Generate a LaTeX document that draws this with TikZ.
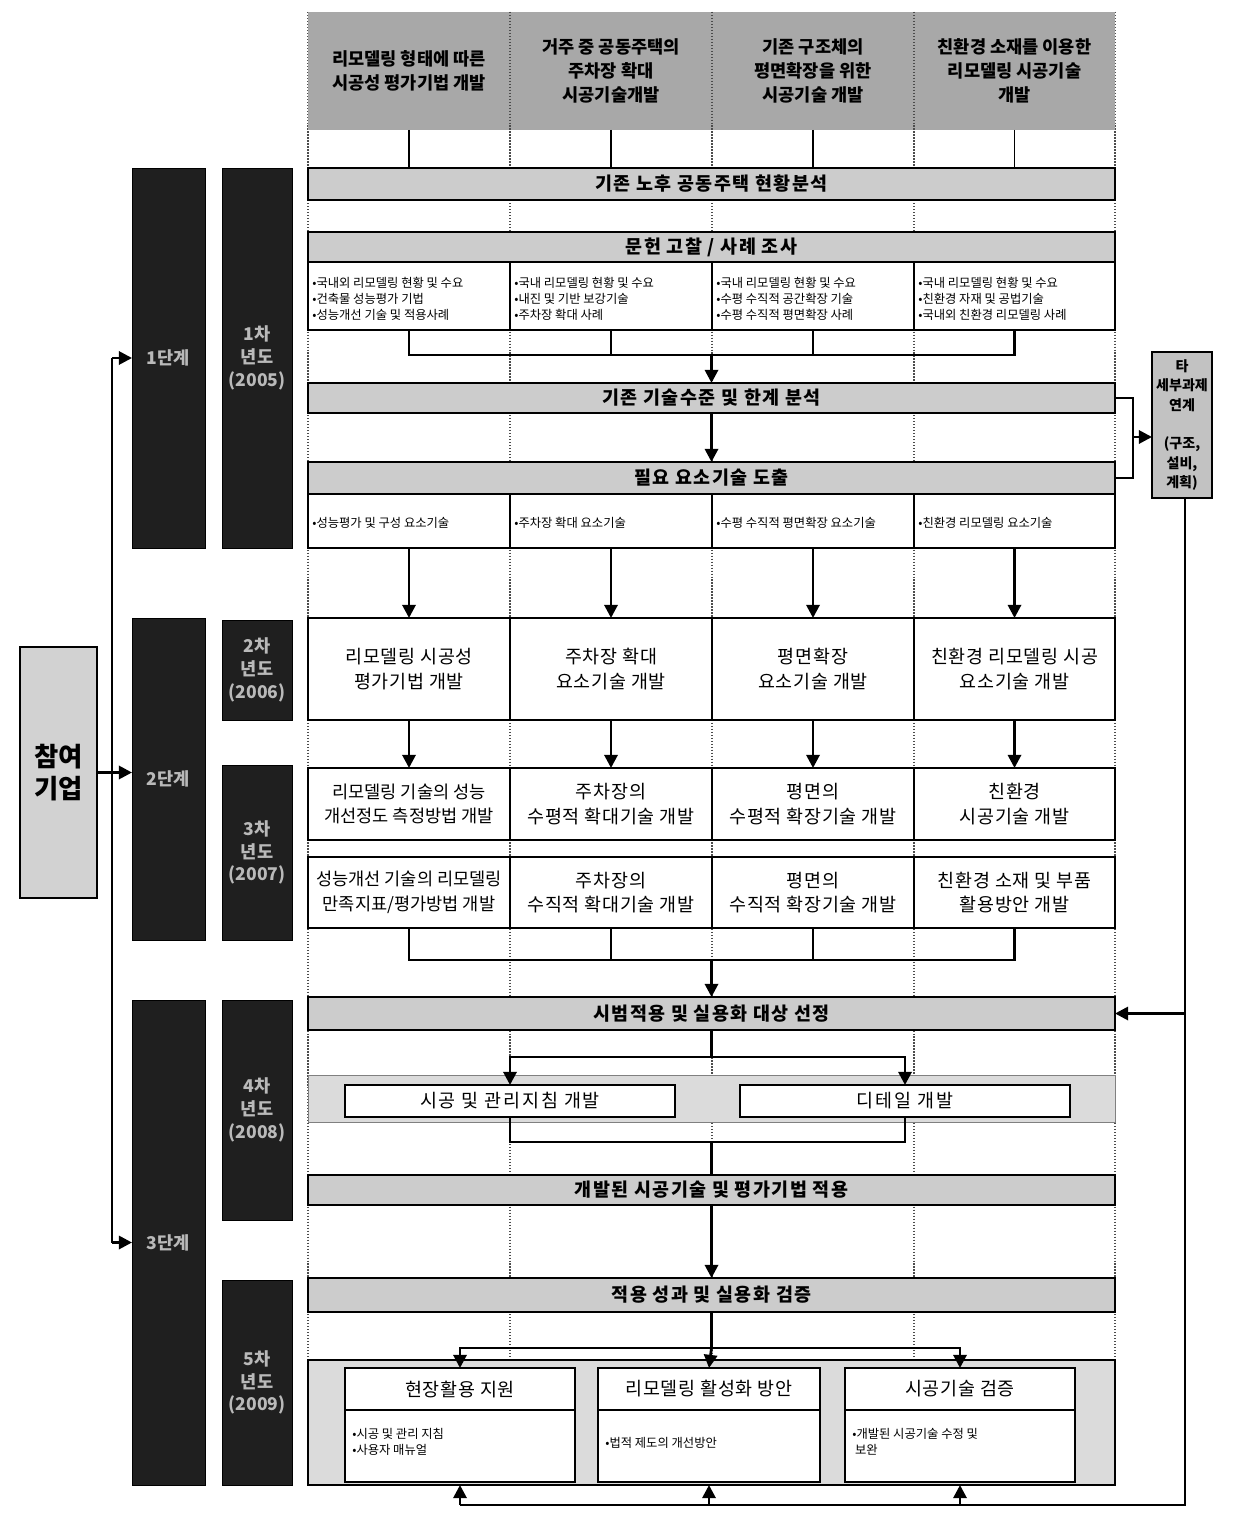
\documentclass[tikz,border=0pt]{standalone}
\usepackage{fontspec}
\setmainfont{Noto Sans CJK KR}
\usetikzlibrary{arrows.meta}
\newcommand\fs[2]{\fontsize{#1pt}{#2pt}\selectfont}
\newcommand\bx[7]{\node[#6, minimum width={(#4-#2)*0.02cm}, minimum height={(#5-#3)*0.02cm}] (#1) at ({(#2+#4)/2},{(#3+#5)/2}) {#7};}
\begin{document}
\begin{tikzpicture}[x=0.02cm,y=-0.02cm,
  base/.style={draw=black, line width=0.9pt, inner sep=1pt, outer sep=0pt, align=center},
  band/.style={base, fill=gray!40, font=\fs{10.5}{13}\bfseries\addfontfeature{LetterSpace=8}},
  hdr/.style={fill=gray!68, inner sep=1pt, outer sep=0pt, align=center, font=\fs{10}{13.5}\bfseries},
  wbox/.style={base, fill=white, font=\fs{10.5}{14}\addfontfeature{LetterSpace=4}},
  bullet/.style={anchor=west, align=left, inner sep=0pt, font=\fs{7}{9.2}},
  dark/.style={draw=black, fill=black!88, text=gray!55, inner sep=1pt, outer sep=0pt, align=center, font=\fs{10}{13}\bfseries},
  conn/.style={line width=1.6pt},
  arr/.style={conn, -{Triangle[length=7.5pt,width=7.5pt]}},
  div/.style={densely dotted, line width=0.7pt, black!70}]
\useasboundingbox (0,0) rectangle (1237,1513);

% dotted column dividers
\foreach \xx in {308,510,712,914,1115} \draw[div] (\xx,12) -- (\xx,1485);

% header
\bx{h1}{308}{12}{510}{130}{hdr}{리모델링 형태에 따른\\시공성 평가기법 개발}
\bx{h2}{510}{12}{712}{130}{hdr}{거주 중 공동주택의\\주차장 확대\\시공기술개발}
\bx{h3}{712}{12}{914}{130}{hdr}{기존 구조체의\\평면확장을 위한\\시공기술 개발}
\bx{h4}{914}{12}{1115}{130}{hdr}{친환경 소재를 이용한\\리모델링 시공기술\\개발}
\foreach \xx in {510,712,914} \draw[div] (\xx,12) -- (\xx,130);

% bands
\bx{b1}{308}{168}{1115}{200}{band}{기존 노후 공동주택 현황분석}
\bx{b2}{308}{232}{1115}{262}{band}{문헌 고찰 / 사례 조사}
\bx{b3}{308}{383}{1115}{413}{band}{기존 기술수준 및 한계 분석}
\bx{b4}{308}{462}{1115}{494}{band}{필요 요소기술 도출}
\bx{b5}{308}{997}{1115}{1030}{band}{시범적용 및 실용화 대상 선정}
\bx{b6}{308}{1175}{1115}{1205}{band}{개발된 시공기술 및 평가기법 적용}
\bx{b7}{308}{1278}{1115}{1312}{band}{적용 성과 및 실용화 검증}

% survey boxes
\bx{c1}{308}{262}{510}{330}{base,fill=white}{}
\bx{c2}{510}{262}{712}{330}{base,fill=white}{}
\bx{c3}{712}{262}{914}{330}{base,fill=white}{}
\bx{c4}{914}{262}{1115}{330}{base,fill=white}{}
\node[bullet] (c1t) at (312,299) {•국내외 리모델링 현황 및 수요\\•건축물 성능평가 기법\\•성능개선 기술 및 적용사례};
\node[bullet] (c2t) at (514,299) {•국내 리모델링 현황 및 수요\\•내진 및 기반 보강기술\\•주차장 확대 사례};
\node[bullet] (c3t) at (716,299) {•국내 리모델링 현황 및 수요\\•수평 수직적 공간확장 기술\\•수평 수직적 평면확장 사례};
\node[bullet] (c4t) at (918,299) {•국내 리모델링 현황 및 수요\\•친환경 자재 및 공법기술\\•국내외 친환경 리모델링 사례};

% element technology boxes
\bx{g1}{308}{494}{510}{548}{base,fill=white}{}
\bx{g2}{510}{494}{712}{548}{base,fill=white}{}
\bx{g3}{712}{494}{914}{548}{base,fill=white}{}
\bx{g4}{914}{494}{1115}{548}{base,fill=white}{}
\node[bullet] (g1t) at (312,523) {•성능평가 및 구성 요소기술};
\node[bullet] (g2t) at (514,523) {•주차장 확대 요소기술};
\node[bullet] (g3t) at (716,523) {•수평 수직적 평면확장 요소기술};
\node[bullet] (g4t) at (918,523) {•친환경 리모델링 요소기술};

% development rows
\bx{d1}{308}{618}{510}{720}{wbox}{리모델링 시공성\\평가기법 개발}
\bx{d2}{510}{618}{712}{720}{wbox}{주차장 확대\\요소기술 개발}
\bx{d3}{712}{618}{914}{720}{wbox}{평면확장\\요소기술 개발}
\bx{d4}{914}{618}{1115}{720}{wbox}{친환경 리모델링 시공\\요소기술 개발}

\bx{e1}{308}{768}{510}{840}{base, fill=white, font=\fs{10}{14}}{리모델링 기술의 성능\\개선정도 측정방법 개발}
\bx{e2}{510}{768}{712}{840}{wbox}{주차장의\\수평적 확대기술 개발}
\bx{e3}{712}{768}{914}{840}{wbox}{평면의\\수평적 확장기술 개발}
\bx{e4}{914}{768}{1115}{840}{wbox}{친환경\\시공기술 개발}

\bx{f1}{308}{857}{510}{928}{base, fill=white, font=\fs{10}{14}}{성능개선 기술의 리모델링\\만족지표/평가방법 개발}
\bx{f2}{510}{857}{712}{928}{wbox}{주차장의\\수직적 확대기술 개발}
\bx{f3}{712}{857}{914}{928}{wbox}{평면의\\수직적 확장기술 개발}
\bx{f4}{914}{857}{1115}{928}{wbox}{친환경 소재 및 부품\\활용방안 개발}

% guideline row
\bx{srow}{308}{1075}{1115}{1122}{fill=gray!28, draw=black!50, line width=0.5pt}{}
\bx{s1}{345}{1085}{675}{1117}{wbox, font=\fs{10.5}{14}\addfontfeature{LetterSpace=10}}{시공 및 관리지침 개발}
\bx{s2}{740}{1085}{1070}{1117}{wbox, font=\fs{10.5}{14}\addfontfeature{LetterSpace=10}}{디테일 개발}

% final block
\bx{big}{308}{1360}{1115}{1485}{base, fill=gray!28}{}
\bx{wt1}{345}{1368}{575}{1410}{wbox}{현장활용 지원}
\bx{wt2}{598}{1368}{820}{1410}{wbox}{리모델링 활성화 방안}
\bx{wt3}{845}{1368}{1075}{1410}{wbox}{시공기술 검증}
\bx{wc1}{345}{1410}{575}{1482}{base,fill=white}{}
\bx{wc2}{598}{1410}{820}{1482}{base,fill=white}{}
\bx{wc3}{845}{1410}{1075}{1482}{base,fill=white}{}
\node[bullet] (wc1t) at (352,1442) {•시공 및 관리 지침\\•사용자 매뉴얼};
\node[bullet] (wc2t) at (605,1443) {•법적 제도의 개선방안};
\node[bullet] (wc3t) at (852,1442) {•개발된 시공기술 수정 및\\\ 보완};

% right box
\bx{r}{1152}{352}{1212}{498}{base, fill=gray!48, font=\fs{8}{11}\bfseries}{타\\세부과제\\연계\\\\(구조,\\설비,\\계획)}

% left participants
\bx{p}{20}{647}{97}{898}{base, fill=gray!35, font=\fs{15}{18}\bfseries}{참여\\기업}

% left dark columns
\bx{A1}{132}{168}{205}{548}{dark}{1단계}
\bx{A2}{132}{618}{205}{940}{dark}{2단계}
\bx{A3}{132}{1000}{205}{1485}{dark}{3단계}
\bx{B1}{222}{168}{292}{548}{dark}{1차\\년도\\(2005)}
\bx{B2}{222}{620}{292}{720}{dark}{2차\\년도\\(2006)}
\bx{B3}{222}{765}{292}{940}{dark}{3차\\년도\\(2007)}
\bx{B4}{222}{1000}{292}{1220}{dark}{4차\\년도\\(2008)}
\bx{B5}{222}{1280}{292}{1485}{dark}{5차\\년도\\(2009)}

% coordinates
\coordinate (m1) at (711.5,355);
\coordinate (m2) at (711.5,960);
\coordinate (m3) at (711.5,1057);
\coordinate (m4) at (711.5,1142);
\coordinate (m5) at (711.5,1348);
\coordinate (br) at (1133,437);
\coordinate (bl) at (1185,1505);
\coordinate (vl) at (112,0);

% header to b1
\foreach \n in {h1,h2,h3,h4} \draw[line width=1pt] (\n.south) -- (\n.south |- b1.north);

% survey merge
\draw[conn] (c1.south) -- (c1.south |- m1) -- (c4.south |- m1) -- (c4.south);
\draw[conn] (c2.south) -- (c2.south |- m1);
\draw[conn] (c3.south) -- (c3.south |- m1);
\draw[arr] (m1) -- (b3.north);
\draw[arr] (b3.south) -- (b4.north);

% bracket to right box
\draw[conn] (b3.east) -- (b3.east -| br) -- (b4.east -| br) -- (b4.east);
\draw[arr] (br) -- (br -| r.west);

% g -> d -> e
\foreach \i in {1,2,3,4} {
  \draw[arr] (g\i.south) -- (d\i.north);
  \draw[arr] (d\i.south) -- (e\i.north);
}

% f merge
\draw[conn] (f1.south) -- (f1.south |- m2) -- (f4.south |- m2) -- (f4.south);
\draw[conn] (f2.south) -- (f2.south |- m2);
\draw[conn] (f3.south) -- (f3.south |- m2);
\draw[arr] (m2) -- (b5.north);

% b5 split to s1, s2
\draw[conn] (b5.south) -- (m3);
\draw[arr] (m3) -- (m3 -| s1.north) -- (s1.north);
\draw[arr] (m3) -- (m3 -| s2.north) -- (s2.north);
\draw[conn] (s1.south) -- (s1.south |- m4) -- (s2.south |- m4) -- (s2.south);
\draw[conn] (m4) -- (b6.north);
\draw[arr] (b6.south) -- (b7.north);

% b7 split to final boxes
\draw[conn] (b7.south) -- (m5);
\draw[arr] (m5) -- (m5 -| wt1.north) -- (wt1.north);
\draw[arr] (m5) -- (wt2.north);
\draw[arr] (m5) -- (m5 -| wt3.north) -- (wt3.north);

% right loop
\draw[conn] (r.south -| bl) -- (bl) -- (bl -| wc1.south);
\draw[arr] (b5.east -| bl) -- (b5.east);
\draw[arr] (bl -| wc1.south) -- (wc1.south |- big.south);
\draw[arr] (bl -| wc2.south) -- (wc2.south |- big.south);
\draw[arr] (bl -| wc3.south) -- (wc3.south |- big.south);

% left participants line
\draw[conn] (A1.west -| vl) -- (A3.west -| vl);
\draw[arr] (A1.west -| vl) -- (A1.west);
\draw[arr] (p.east) -- (p.east -| A2.west);
\draw[arr] (A3.west -| vl) -- (A3.west);
\end{tikzpicture}
\end{document}
